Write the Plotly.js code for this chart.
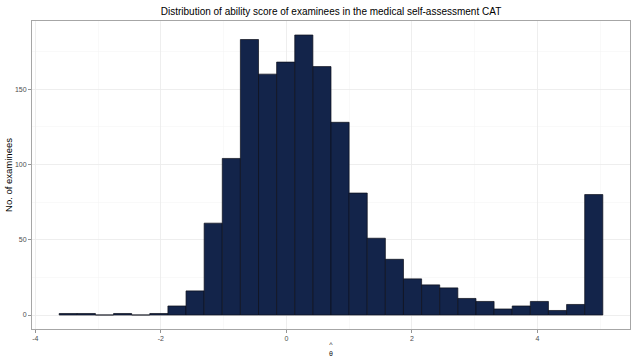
<!DOCTYPE html>
<html>
<head>
<meta charset="utf-8">
<script src="https://cdn.plot.ly/plotly-3.0.1.min.js"></script>
<style>
  html, body { margin: 0; padding: 0; background: #ffffff; }
  #chart { width: 635px; height: 359px; }
</style>
</head>
<body>
<div id="chart"></div>
<script>
// Histogram of estimated ability (theta-hat): 30 equal-width bins
const binStart = -3.62;   // left edge of the first bin
const binWidth = 0.2887;  // width of every bin
const counts = [1, 1, 0, 1, 0, 1, 6, 16, 61, 104,
                183, 160, 168, 186, 165, 128, 81, 51, 37, 24,
                20, 18, 11, 9, 4, 6, 9, 3, 7, 80];
const xTickVals = [-4, -2, 0, 2, 4];
const yTickVals = [0, 50, 100, 150];

const centers = counts.map((_, i) => binStart + binWidth * (i + 0.5));
const xMin = binStart, xMax = binStart + binWidth * counts.length;
const xPad = (xMax - xMin) * 0.05;
const yMax = Math.max(...counts);
const yPad = yMax * 0.05;

const trace = {
  type: 'bar',
  x: centers,
  y: counts,
  width: binWidth,
  marker: { color: '#13244a', line: { color: '#0b0f1a', width: 0.7 } },
  hoverinfo: 'x+y'
};

const axisCommon = {
  showline: true, mirror: true, linecolor: '#a6a6a6', linewidth: 1,
  showgrid: true, gridcolor: '#ebebeb', gridwidth: 0.8,
  zeroline: false,
  ticks: 'outside', ticklen: 3, tickwidth: 0.6, tickcolor: '#4d4d4d',
  tickfont: { family: 'Liberation Sans, Arial, sans-serif', size: 7, color: '#4d4d4d' }
};

const layout = {
  width: 635, height: 359,
  margin: { l: 32, r: 5, t: 21, b: 30 },
  paper_bgcolor: '#ffffff', plot_bgcolor: '#ffffff',
  showlegend: false,
  bargap: 0,
  title: {
    text: 'Distribution of ability score of examinees in the medical self-assessment CAT',
    font: { family: 'Liberation Sans, Arial, sans-serif', size: 10, color: '#000000' },
    x: 0.5, xanchor: 'center', xref: 'paper',
    y: 1 - 11 / 359, yanchor: 'middle'
  },
  xaxis: Object.assign({}, axisCommon, {
    range: [xMin - xPad, xMax + xPad],
    tickmode: 'array', tickvals: xTickVals, ticktext: xTickVals.map(String),
    minor: { dtick: 1, tick0: 1, showgrid: true, gridcolor: '#f3f3f3', gridwidth: 0.5, ticks: '' },
    title: {
      text: '^<br>θ',
      font: { family: 'Liberation Sans, Arial, sans-serif', size: 7, color: '#222222' },
      standoff: 0
    }
  }),
  yaxis: Object.assign({}, axisCommon, {
    range: [-yPad, yMax + yPad],
    tickmode: 'array', tickvals: yTickVals, ticktext: yTickVals.map(String),
    minor: { dtick: 25, tick0: 25, showgrid: true, gridcolor: '#f3f3f3', gridwidth: 0.5, ticks: '' },
    title: {
      text: 'No. of examinees',
      font: { family: 'Liberation Sans, Arial, sans-serif', size: 9.5, color: '#000000' },
      standoff: 0
    }
  })
};

Plotly.newPlot('chart', [trace], layout, { displayModeBar: false, staticPlot: true });
</script>
</body>
</html>
